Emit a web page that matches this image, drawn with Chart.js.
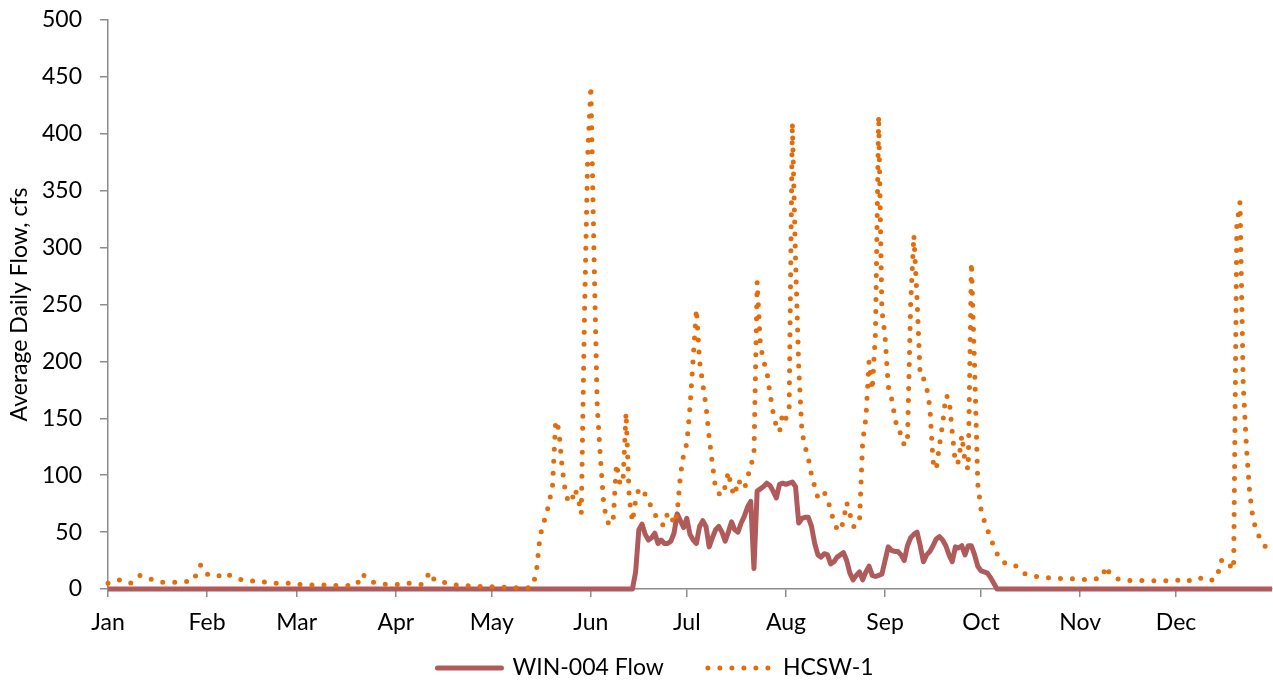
<!DOCTYPE html>
<html>
<head>
<meta charset="utf-8">
<script src="https://cdn.jsdelivr.net/npm/chart.js@4.4.1/dist/chart.umd.min.js"></script>
<style>
  html, body { margin: 0; padding: 0; background: #fff; }
  #flowChart { display: block; }
</style>
</head>
<body>
<canvas id="flowChart" width="1273" height="680"></canvas>
<script>
// x axis: day of year, labelled at the first day of each month
const monthLabels = ['Jan', 'Feb', 'Mar', 'Apr', 'May', 'Jun', 'Jul', 'Aug', 'Sep', 'Oct', 'Nov', 'Dec'];
const monthStartDays = [0, 31, 59, 90, 120, 151, 181, 212, 243, 273, 304, 334];
const yTicks = { min: 0, max: 500, step: 50 };
const seriesNames = ['WIN-004 Flow', 'HCSW-1'];

// average daily flow, cfs (one value per day)
const win004Flow = [
  // Jan
  0, 0, 0, 0, 0, 0, 0, 0, 0, 0, 0, 0, 0, 0, 0, 0, 0, 0, 0, 0, 0, 0, 0, 0, 0, 0, 0, 0, 0, 0, 0,
  // Feb
  0, 0, 0, 0, 0, 0, 0, 0, 0, 0, 0, 0, 0, 0, 0, 0, 0, 0, 0, 0, 0, 0, 0, 0, 0, 0, 0, 0,
  // Mar
  0, 0, 0, 0, 0, 0, 0, 0, 0, 0, 0, 0, 0, 0, 0, 0, 0, 0, 0, 0, 0, 0, 0, 0, 0, 0, 0, 0, 0, 0, 0,
  // Apr
  0, 0, 0, 0, 0, 0, 0, 0, 0, 0, 0, 0, 0, 0, 0, 0, 0, 0, 0, 0, 0, 0, 0, 0, 0, 0, 0, 0, 0, 0,
  // May
  0, 0, 0, 0, 0, 0, 0, 0, 0, 0, 0, 0, 0, 0, 0, 0, 0, 0, 0, 0, 0, 0, 0, 0, 0, 0, 0, 0, 0, 0, 0,
  // Jun
  0, 0, 0, 0, 0, 0, 0, 0, 0, 0, 0, 0, 0, 0, 15, 52, 57, 48, 43, 45, 49, 40, 43, 40, 40, 42, 49, 66, 60, 54,
  // Jul
  62, 48, 43, 40, 55, 60, 55, 37, 45, 52, 55, 50, 42, 50, 59, 52, 50, 58, 64, 72, 77, 18, 86, 88, 90, 93, 91, 86, 80, 92, 93,
  // Aug
  92, 93, 94, 90, 58, 62, 63, 63, 55, 40, 30, 28, 31, 30, 22, 24, 28, 30, 32, 25, 14, 8, 12, 15, 8, 15, 20, 12, 11, 12, 13,
  // Sep
  25, 37, 34, 33, 33, 30, 25, 38, 45, 48, 50, 38, 24, 30, 33, 38, 44, 46, 43, 38, 30, 24, 37, 36, 38, 30, 38, 38, 30, 20,
  // Oct
  16, 15, 14, 10, 5, 0, 0, 0, 0, 0, 0, 0, 0, 0, 0, 0, 0, 0, 0, 0, 0, 0, 0, 0, 0, 0, 0, 0, 0, 0, 0,
  // Nov
  0, 0, 0, 0, 0, 0, 0, 0, 0, 0, 0, 0, 0, 0, 0, 0, 0, 0, 0, 0, 0, 0, 0, 0, 0, 0, 0, 0, 0, 0,
  // Dec
  0, 0, 0, 0, 0, 0, 0, 0, 0, 0, 0, 0, 0, 0, 0, 0, 0, 0, 0, 0, 0, 0, 0, 0, 0, 0, 0, 0, 0, 0, 0
];

const hcsw1Flow = [
  // Jan
  5, 6, 7, 8, 8, 7, 6, 5, 7, 10, 12, 11, 10, 9, 8, 7, 6, 6, 6, 6, 6, 6, 6, 6, 6, 7, 8, 8, 17, 21, 16,
  // Feb
  13, 12, 11, 11, 12, 14, 14, 12, 11, 10, 9, 8, 8, 8, 7, 7, 7, 7, 6, 6, 6, 5, 5, 5, 5, 5, 5, 4,
  // Mar
  4, 4, 4, 4, 4, 3.5, 3.5, 3.5, 3.5, 3.5, 3.5, 3.5, 3, 3, 3, 3, 3, 3, 3, 4, 13, 12, 9, 7, 6, 5, 5, 4.5, 4, 4, 4,
  // Apr
  4, 4, 4, 4.5, 5, 5, 4.5, 4, 4, 6, 12, 15, 8, 6.5, 6, 6, 5, 4, 3.5, 3.5, 3, 3, 3, 2.8, 2.6, 2.4, 2.3, 2.2, 2, 2,
  // May
  1.9, 1.8, 1.7, 1.6, 1.5, 1.3, 1.2, 1.2, 1.2, 1.1, 1, 1, 1, 4, 16, 44, 57, 64, 77, 90, 148, 140, 107, 86, 76, 77, 88, 80, 66, 240, 380,
  // Jun
  442, 290, 160, 115, 75, 60, 56, 62, 110, 94, 92, 155, 80, 59, 78, 88, 88, 83, 78, 71, 66, 60, 57, 56, 67, 65, 57, 67, 100, 118,
  // Jul
  128, 160, 203, 246, 200, 180, 161, 133, 110, 88, 84, 82, 90, 103, 88, 82, 96, 92, 88, 98, 108, 118, 270, 215, 200, 192, 172, 155, 143, 138, 155,
  // Aug
  150, 158, 410, 290, 195, 138, 125, 115, 100, 90, 80, 82, 85, 78, 70, 58, 53, 51, 60, 76, 66, 55, 55, 59, 130, 150, 200, 175, 225, 416, 245,
  // Sep
  222, 178, 168, 152, 138, 137, 126, 130, 250, 311, 255, 186, 185, 177, 160, 112, 105, 126, 145, 170, 168, 138, 110, 112, 135, 112, 105, 287, 195, 92,
  // Oct
  70, 60, 52, 45, 37, 31, 27, 23, 23, 23, 22, 20, 18, 15, 13, 12, 11.5, 11, 10.8, 10.5, 10.2, 10, 9.8, 9.7, 9.5, 9.3, 9.2, 9.2, 9, 9, 9,
  // Nov
  8.8, 8.5, 8.3, 8.2, 8.5, 9, 9.5, 10.5, 20, 15, 12, 10, 8.5, 7.6, 7.5, 7.5, 7.4, 7.4, 7.4, 7.4, 7.4, 7.4, 7.3, 7.3, 7.2, 7.2, 7.2, 7.2, 7.2, 7.2,
  // Dec
  7.3, 8, 9, 8, 7.5, 7.2, 7.2, 8.5, 10, 10.5, 9, 8, 8, 12, 25, 25, 25, 20, 17, 320, 340, 180, 125, 85, 63, 52, 46, 41, 37, 33, 30
];

const textFont = { family: 'Lato', size: 23 };
const textColor = '#000000';
const axisColor = '#8c8c8c';

// legend row under the axis: line sample, then the series name
const bottomLegend = {
  id: 'bottomLegend',
  afterDraw(chart) {
    const ctx = chart.ctx;
    const sets = chart.data.datasets;
    const sampleW = 70, textGap = 8, itemGap = 41, y = 668, centerX = 654;
    ctx.save();
    ctx.font = textFont.size + 'px ' + textFont.family;
    const widths = sets.map(ds => sampleW + textGap + ctx.measureText(ds.label).width);
    const total = widths.reduce((a, b) => a + b, 0) + itemGap * (sets.length - 1);
    let x = centerX - total / 2;
    sets.forEach((ds, i) => {
      ctx.beginPath();
      ctx.strokeStyle = ds.borderColor;
      ctx.lineWidth = ds.borderWidth;
      ctx.lineCap = 'round';
      ctx.setLineDash(ds.borderDash || []);
      ctx.moveTo(x + 3, y);
      ctx.lineTo(x + sampleW - 3, y);
      ctx.stroke();
      ctx.setLineDash([]);
      ctx.fillStyle = textColor;
      ctx.textAlign = 'left';
      ctx.textBaseline = 'middle';
      ctx.fillText(ds.label, x + sampleW + textGap, y);
      x += widths[i] + itemGap;
    });
    ctx.restore();
  }
};

new Chart(document.getElementById('flowChart'), {
  type: 'line',
  data: {
    datasets: [
      {
        label: seriesNames[0],
        data: win004Flow.map((v, i) => ({ x: i, y: v })),
        borderColor: '#b05b5b',
        borderWidth: 5,
        borderJoinStyle: 'round',
        pointRadius: 0,
        clip: 8,
        order: 1
      },
      {
        label: seriesNames[1],
        data: hcsw1Flow.map((v, i) => ({ x: i, y: v })),
        borderColor: '#e46c0a',
        borderWidth: 5,
        borderDash: [0, 12],
        borderCapStyle: 'round',
        borderJoinStyle: 'round',
        pointRadius: 0,
        clip: 8,
        order: 0
      }
    ]
  },
  options: {
    responsive: false,
    animation: false,
    devicePixelRatio: 1,
    layout: { padding: { left: 0, right: 1, top: 20, bottom: 31 } },
    plugins: { legend: { display: false }, tooltip: { enabled: false } },
    scales: {
      x: {
        type: 'linear',
        min: 0,
        max: 364,
        afterBuildTicks: scale => { scale.ticks = monthStartDays.map(v => ({ value: v })); },
        afterFit: scale => { scale.height = 60; },
        ticks: {
          autoSkip: false,
          maxRotation: 0,
          padding: 12,
          color: textColor,
          font: textFont,
          callback: v => monthLabels[monthStartDays.indexOf(v)]
        },
        grid: { drawOnChartArea: false, tickLength: 8, color: axisColor, lineWidth: 1.5 },
        border: { color: axisColor, width: 1.5 }
      },
      y: {
        min: yTicks.min,
        max: yTicks.max,
        afterFit: scale => {
          scale.width = 108;
          // the label gap should not push the plot down from the top
          scale.paddingTop = 0;
          scale.paddingBottom = 0;
        },
        ticks: { stepSize: yTicks.step, padding: 18, color: textColor, font: textFont },
        title: {
          display: true,
          text: 'Average Daily Flow, cfs',
          color: textColor,
          font: textFont,
          padding: { top: 6, bottom: 0 }
        },
        grid: { drawOnChartArea: false, tickLength: 8, color: axisColor, lineWidth: 1.5 },
        border: { color: axisColor, width: 1.5 }
      }
    }
  },
  plugins: [bottomLegend]
});
</script>
</body>
</html>
